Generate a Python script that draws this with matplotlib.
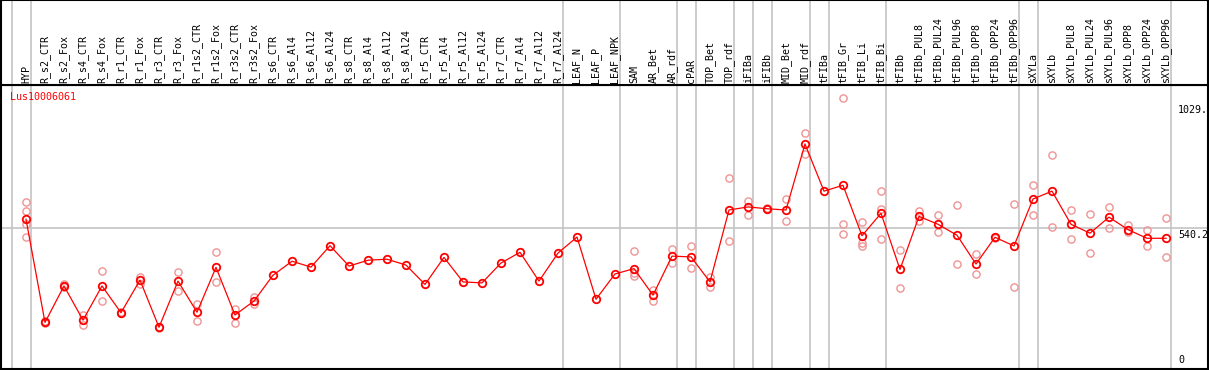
import numpy as np
import matplotlib
matplotlib.use("Agg")
import matplotlib.pyplot as plt

plt.rcParams['font.family'] = ['DejaVu Sans Mono']

# sample names shown in the header
samples = ["HYP",
           "R_s2_CTR", "R_s2_Fox", "R_s4_CTR", "R_s4_Fox", "R_r1_CTR", "R_r1_Fox",
           "R_r3_CTR", "R_r3_Fox", "R_r1s2_CTR", "R_r1s2_Fox", "R_r3s2_CTR", "R_r3s2_Fox",
           "R_s6_CTR", "R_s6_Al4", "R_s6_Al12", "R_s6_Al24",
           "R_s8_CTR", "R_s8_Al4", "R_s8_Al12", "R_s8_Al24",
           "R_r5_CTR", "R_r5_Al4", "R_r5_Al12", "R_r5_Al24",
           "R_r7_CTR", "R_r7_Al4", "R_r7_Al12", "R_r7_Al24",
           "LEAF_N", "LEAF_P", "LEAF_NPK", "SAM", "AR_Bet", "AR_rdf", "cPAR",
           "TOP_Bet", "TOP_rdf", "iFIBa", "iFIBb", "MID_Bet", "MID_rdf", "tFIBa",
           "tFIB_Gr", "tFIB_Li", "tFIB_Bi", "tFIBb",
           "tFIBb_PUL8", "tFIBb_PUL24", "tFIBb_PUL96", "tFIBb_OPP8", "tFIBb_OPP24", "tFIBb_OPP96",
           "sXYLa", "sXYLb",
           "sXYLb_PUL8", "sXYLb_PUL24", "sXYLb_PUL96", "sXYLb_OPP8", "sXYLb_OPP24", "sXYLb_OPP96"]

# mean expression per sample
means = [576,
         171, 314, 180, 314, 209, 337, 152, 333, 211, 387, 200, 255,
         356, 411, 388, 472, 392, 415, 419, 396, 320, 426, 330, 326,
         404, 446, 333, 443,
         506, 262, 361, 382, 278, 431, 428, 330, 612, 624, 617, 612, 871, 686,
         709, 511, 599, 379,
         587, 556, 513, 400, 505, 471,
         655, 686,
         556, 521, 584, 535, 501, 501]

# replicate values (light circles)
replicates = [[643, 607, 557, 505],
              [176, 168], [322, 311], [199, 161], [371, 255], [211, 207], [350, 322],
              [154, 150], [369, 295], [243, 175], [446, 330], [222, 170], [272, 243],
              [], [], [], [], [], [], [], [], [], [], [], [],
              [], [], [], [],
              [], [], [], [450, 364, 353], [298, 256], [458, 405], [471, 383],
              [348, 309], [738, 489], [647, 594], [620, 614], [655, 568], [913, 832], [],
              [1050, 557, 517], [564, 484, 472], [685, 617, 498], [454, 305],
              [609, 570], [592, 525], [630, 400], [439, 360], [508, 502], [634, 309],
              [709, 591], [827, 544],
              [611, 497], [595, 442], [624, 540], [553, 527], [532, 470], [581, 426]]

# group boundaries (line drawn after these sample indices)
group_ends = [-1, 0, 28, 31, 34, 35, 37, 38, 39, 41, 42, 45, 52, 53, 60]

ref_lines = [540.2]
ytick_labels = ["1029.", "540.2", "0"]
ytick_vals = [1029, 540.2, 0]

W, H = 1209, 370
fig = plt.figure(figsize=(W / 100, H / 100), dpi=100)

# pixel geometry
left_px, right_px = 1, 1208
sep_px, bottom_px = 85, 369
x0_px, step_px = 26, 19
zero_px, ref_px = 366, 228.3
upp = 540.2 / (zero_px - ref_px)

xlim = ((left_px - x0_px) / step_px, (right_px - x0_px) / step_px)
ylim = (-(bottom_px - zero_px) * upp, (zero_px - sep_px) * upp)

ax = fig.add_axes([left_px / W, (H - bottom_px) / H,
                   (right_px - left_px) / W, (bottom_px - sep_px) / H])
axh = fig.add_axes([left_px / W, (H - sep_px) / H,
                    (right_px - left_px) / W, sep_px / H - 0.001])

gray = "#c4c4c4"
for a in (ax, axh):
    a.set_xlim(*xlim)
    a.set_xticks([])
    a.set_yticks([])
    for g in group_ends:
        a.axvline(g + 0.25, color=gray, lw=1.2, zorder=0)
    for s in a.spines.values():
        s.set_color("black")
        s.set_linewidth(1.5)

ax.set_ylim(*ylim)
axh.set_ylim(0, 1)

for r in ref_lines:
    ax.axhline(r, color=gray, lw=1.2, zorder=0)

x = np.arange(len(samples))

# replicates
for i, vals in enumerate(replicates):
    if vals:
        ax.plot([i] * len(vals), vals, ls="none", marker="o", ms=5.2,
                mfc="none", mec="#ee9494", mew=1.0, zorder=2)

# means
ax.plot(x, means, color="red", lw=0.9, marker="o", ms=5.4,
        mfc="none", mec="red", mew=1.3, zorder=3)

# header labels
for i, name in enumerate(samples):
    axh.text(i, 0.025, name, rotation=90, ha="center", va="bottom",
             fontsize=7.2, color="black")

# value labels on the right
xl = (1178 - x0_px) / step_px
for v, lab in zip(ytick_vals, ytick_labels):
    ax.text(xl, v - 1.5 * upp if v > 0 else v + 1 * upp, lab,
            va="top" if v > 0 else "bottom", ha="left", fontsize=7.2, color="black")

ax.text(0.0075, 0.958, "Lus10006061", transform=ax.transAxes, color="red",
        fontsize=7.2, ha="left", va="center")

fig.savefig("out.png", dpi=100)
